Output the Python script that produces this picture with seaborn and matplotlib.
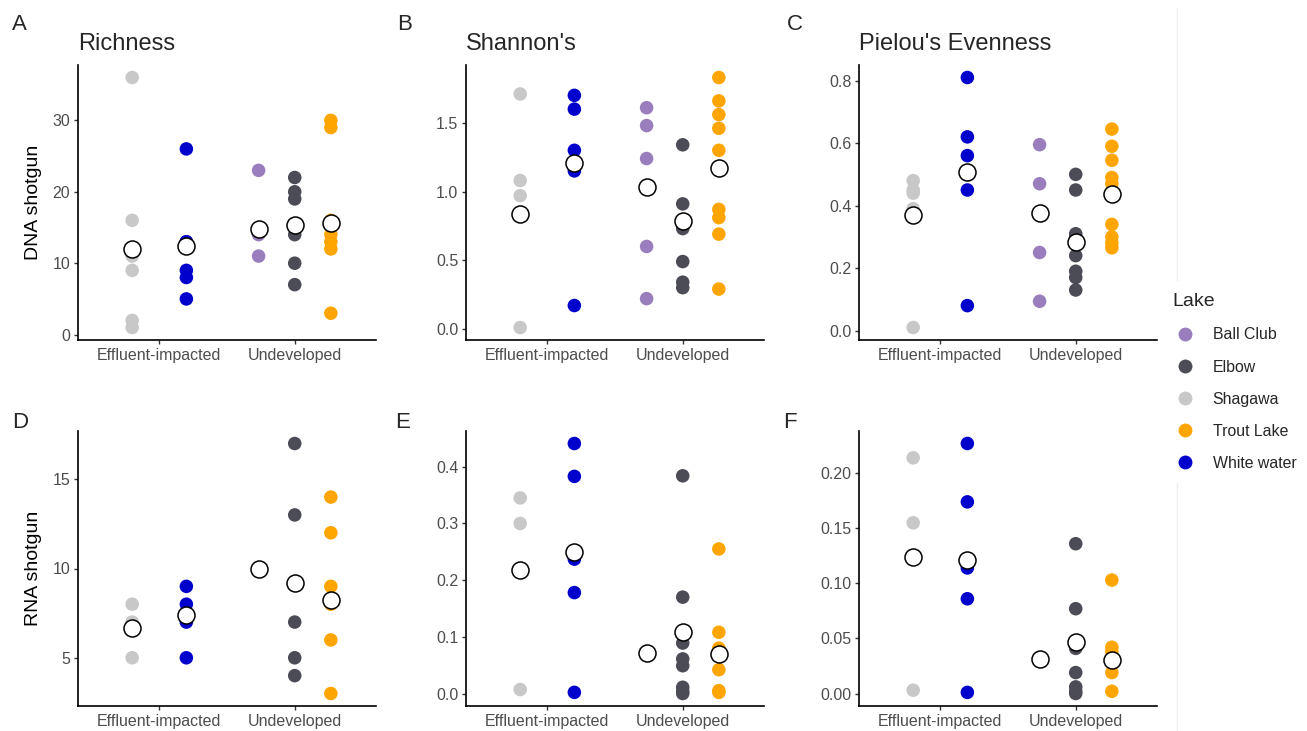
import pandas as pd
import seaborn as sns
import matplotlib.pyplot as plt
from matplotlib.lines import Line2D

# groups and which lakes sit in each
groups = ['Effluent-impacted', 'Undeveloped']
group_lakes = {'Effluent-impacted': ['Shagawa', 'White water'],
               'Undeveloped': ['Ball Club', 'Elbow', 'Trout Lake']}
lake_order = ['Ball Club', 'Elbow', 'Shagawa', 'Trout Lake', 'White water']
lake_colors = {'Ball Club': '#9A7DBD', 'Elbow': '#4B4C56', 'Shagawa': '#C8C8C8',
               'Trout Lake': '#FFA500', 'White water': '#0000CD'}

# DNA shotgun
dna_richness = {'Shagawa': [36, 16, 11, 9, 2, 1], 'White water': [26, 13, 13, 9, 8, 5],
                'Ball Club': [23, 14, 11], 'Elbow': [22, 20, 19, 14, 10, 7],
                'Trout Lake': [30, 29, 16, 14, 13, 12, 3]}
dna_richness_mean = {'Shagawa': 12.0, 'White water': 12.4, 'Ball Club': 14.8,
                     'Elbow': 15.3, 'Trout Lake': 15.7}
dna_shannon = {'Shagawa': [1.71, 1.08, 0.97, 0.01], 'White water': [1.70, 1.60, 1.30, 1.15, 0.17],
               'Ball Club': [1.61, 1.48, 1.24, 0.60, 0.22],
               'Elbow': [1.34, 0.91, 0.73, 0.49, 0.34, 0.30],
               'Trout Lake': [1.83, 1.66, 1.56, 1.46, 1.30, 0.87, 0.81, 0.69, 0.29]}
dna_shannon_mean = {'Shagawa': 0.833, 'White water': 1.21, 'Ball Club': 1.03,
                    'Elbow': 0.784, 'Trout Lake': 1.174}
dna_pielou = {'Shagawa': [0.48, 0.45, 0.44, 0.39, 0.01],
              'White water': [0.81, 0.62, 0.56, 0.50, 0.45, 0.08],
              'Ball Club': [0.595, 0.47, 0.25, 0.094],
              'Elbow': [0.50, 0.45, 0.31, 0.30, 0.24, 0.19, 0.17, 0.13],
              'Trout Lake': [0.645, 0.59, 0.545, 0.49, 0.47, 0.34, 0.30, 0.28, 0.265]}
dna_pielou_mean = {'Shagawa': 0.369, 'White water': 0.507, 'Ball Club': 0.377,
                   'Elbow': 0.283, 'Trout Lake': 0.438}

# RNA shotgun
rna_richness = {'Shagawa': [8, 7, 5], 'White water': [9, 8, 7, 5], 'Ball Club': [10],
                'Elbow': [17, 13, 7, 5, 4], 'Trout Lake': [14, 12, 9, 8, 6, 3]}
rna_richness_mean = {'Shagawa': 6.67, 'White water': 7.4, 'Ball Club': 10.0,
                     'Elbow': 9.18, 'Trout Lake': 8.26}
rna_shannon = {'Shagawa': [0.345, 0.30, 0.007], 'White water': [0.441, 0.383, 0.237, 0.178, 0.002],
               'Ball Club': [0.071],
               'Elbow': [0.384, 0.170, 0.089, 0.061, 0.049, 0.011, 0.004, 0.0],
               'Trout Lake': [0.255, 0.108, 0.08, 0.042, 0.005, 0.002]}
rna_shannon_mean = {'Shagawa': 0.218, 'White water': 0.25, 'Ball Club': 0.071,
                    'Elbow': 0.109, 'Trout Lake': 0.07}
rna_pielou = {'Shagawa': [0.214, 0.155, 0.003], 'White water': [0.227, 0.174, 0.114, 0.086, 0.001],
              'Ball Club': [0.031],
              'Elbow': [0.136, 0.077, 0.041, 0.019, 0.006, 0.002, 0.0],
              'Trout Lake': [0.103, 0.042, 0.038, 0.019, 0.002]}
rna_pielou_mean = {'Shagawa': 0.124, 'White water': 0.121, 'Ball Club': 0.031,
                   'Elbow': 0.0464, 'Trout Lake': 0.030}

panel_letters = ['A', 'B', 'C', 'D', 'E', 'F']
titles = ['Richness', "Shannon's", "Pielou's Evenness", '', '', '']
ylabels = ['DNA shotgun', '', '', 'RNA shotgun', '', '']
yticks = [[0, 10, 20, 30], [0.0, 0.5, 1.0, 1.5], [0.0, 0.2, 0.4, 0.6, 0.8],
          [5, 10, 15], [0.0, 0.1, 0.2, 0.3, 0.4], [0.00, 0.05, 0.10, 0.15, 0.20]]
ytick_fmt = ['{:.0f}', '{:.1f}', '{:.1f}', '{:.0f}', '{:.1f}', '{:.2f}']
panels = [(dna_richness, dna_richness_mean), (dna_shannon, dna_shannon_mean),
          (dna_pielou, dna_pielou_mean), (rna_richness, rna_richness_mean),
          (rna_shannon, rna_shannon_mean), (rna_pielou, rna_pielou_mean)]


def dodge_x(group, lake):
    # ggplot-style dodge: width 0.8 split among lakes present in the group
    lakes = group_lakes[group]
    n = len(lakes)
    return groups.index(group) + (lakes.index(lake) - (n - 1) / 2) * 0.8 / n


def to_frames(values, means):
    rows, mrows = [], []
    for g in groups:
        for lake in group_lakes[g]:
            x = dodge_x(g, lake)
            for v in values[lake]:
                rows.append({'x': x, 'value': v, 'Lake': lake})
            mrows.append({'x': x, 'value': means[lake]})
    return pd.DataFrame(rows), pd.DataFrame(mrows)


sns.set_theme(style='ticks')
plt.rcParams['font.family'] = ['Liberation Sans', 'DejaVu Sans']

W, H = 1307, 731
fig = plt.figure(figsize=(W / 100, H / 100), dpi=100)

col_left = [78, 466, 859]
row_top = [65, 431]
ax_w, ax_h = 298, 275
letter_pos = [(12, 30), (397, 30), (787, 30), (12, 428), (395, 428), (783, 428)]

for i, (values, means) in enumerate(panels):
    r, c = divmod(i, 3)
    ax = fig.add_axes([col_left[c] / W, 1 - (row_top[r] + ax_h) / H, ax_w / W, ax_h / H])
    df, mdf = to_frames(values, means)
    sns.scatterplot(data=df, x='x', y='value', hue='Lake', palette=lake_colors,
                    hue_order=lake_order, s=95, linewidth=0, legend=False, ax=ax, zorder=2)
    sns.scatterplot(data=mdf, x='x', y='value', color='white', edgecolor='black',
                    s=150, linewidth=1.1, legend=False, ax=ax, zorder=3)

    allv = list(df['value']) + list(mdf['value'])
    lo, hi = min(allv), max(allv)
    pad = 0.05 * (hi - lo)
    ax.set_ylim(lo - pad, hi + pad)
    ax.set_xlim(-0.6, 1.6)
    ax.set_xticks(range(len(groups)))
    ax.set_xticklabels(groups)
    ax.set_yticks(yticks[i])
    ax.set_yticklabels([ytick_fmt[i].format(t) for t in yticks[i]])
    ax.set_xlabel('')
    ax.set_ylabel(ylabels[i], fontsize=14, color='black')
    ax.yaxis.set_label_coords(-0.12, 0.5)
    ax.tick_params(axis='both', labelsize=11.5, labelcolor='#4D4D4D', color='#333333',
                   length=3, width=1.0, pad=2.5)
    for side in ['top', 'right']:
        ax.spines[side].set_visible(False)
    for side in ['left', 'bottom']:
        ax.spines[side].set_linewidth(1.2)
        ax.spines[side].set_color('black')
    if titles[i]:
        ax.set_title(titles[i], loc='left', fontsize=17, pad=11)
    lx, ly = letter_pos[i]
    fig.text(lx / W, 1 - ly / H, panel_letters[i], fontsize=16, va='baseline', ha='left')

# faint panel border visible in the source image
fig.add_artist(Line2D([1177 / W, 1177 / W], [1 - 8 / H, 1 - 280 / H], color='#EFEFEF', lw=1))
fig.add_artist(Line2D([1177 / W, 1177 / W], [1 - 483 / H, 0], color='#EFEFEF', lw=1))

handles = [Line2D([], [], marker='o', linestyle='', markersize=10, markeredgewidth=0,
                  markerfacecolor=lake_colors[k]) for k in lake_order]
leg = fig.legend(handles, lake_order, title='Lake', loc='upper left',
                 bbox_to_anchor=(1166 / W, 1 - 287 / H), frameon=False, fontsize=11.4,
                 title_fontsize=14, handlelength=1.6, handletextpad=0.95, labelspacing=1.08,
                 borderaxespad=0)
leg._legend_box.align = 'left'

fig.savefig('out.png', dpi=100, facecolor='white')
